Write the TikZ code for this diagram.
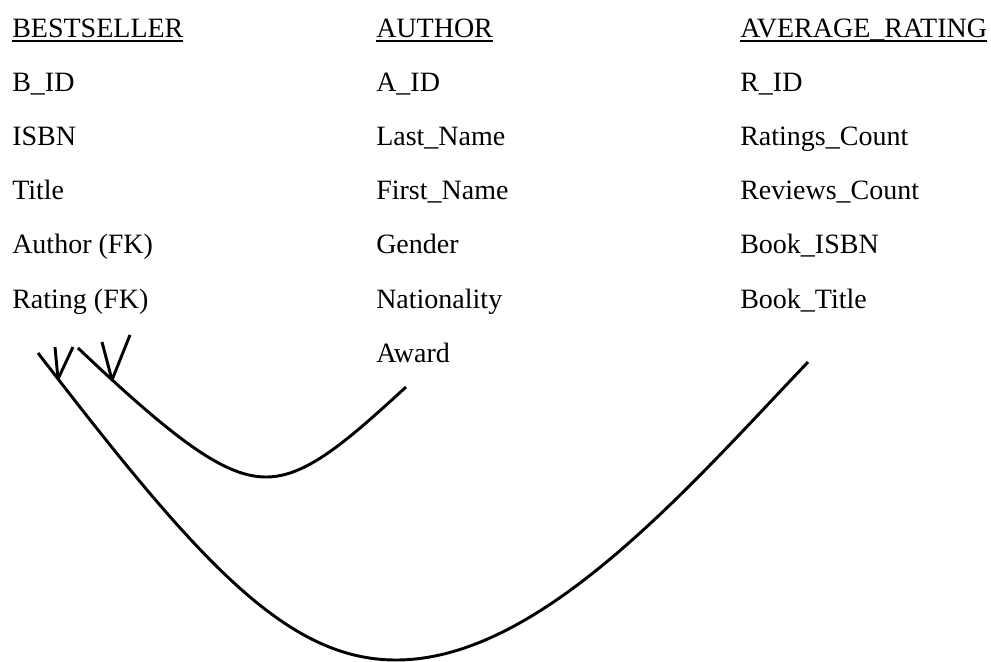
\documentclass[tikz,border=0pt]{standalone}
\usepackage{fontspec}
\setmainfont{Liberation Serif}
\newcommand{\ulhead}[1]{\setbox0\hbox{#1}\rlap{\copy0}\rule[-4pt]{\wd0}{1.4pt}}

\tikzset{field/.style={anchor=base west, inner sep=0pt, font=\fontsize{21}{26}\selectfont},
  rel/.style={line width=2.2pt}}

\begin{document}
\begin{tikzpicture}[x=0.75pt, y=-0.75pt]
\useasboundingbox (0,0) rectangle (991,661);
% tables
\node[field] (bs) at (12,37) {\ulhead{BESTSELLER}};
\node[field] (au) at (376,37) {\ulhead{AUTHOR}};
\node[field] (ar) at (740,37) {\ulhead{AVERAGE\_RATING}};
\foreach \t [count=\i] in {B\_ID, ISBN, Title, Author (FK), Rating (FK)}
    \node[field] (bs\i) at (12,{37+54.2*\i}) {\t};
\foreach \t [count=\i] in {A\_ID, Last\_Name, First\_Name, Gender, Nationality, Award}
    \node[field] (au\i) at (376,{37+54.2*\i}) {\t};
\foreach \t [count=\i] in {R\_ID, Ratings\_Count, Reviews\_Count, Book\_ISBN, Book\_Title}
    \node[field] (ar\i) at (740,{37+54.2*\i}) {\t};
% relationships
\coordinate (s0) at (78,348);
\coordinate (s1) at (112,380);
\coordinate (s2) at (406,387);
\coordinate (b0) at (38,353);
\coordinate (b1) at (58,379);
\coordinate (b2) at (808,362);
\draw[rel] (s0) .. controls (178,443) and (226,477) .. (266,477)
    .. controls (306,477) and (346,442) .. (s2);
\draw[rel] (s1) -- (102,342) (s1) -- (130,335);
\draw[rel] (b0) .. controls (198,561) and (286,660) .. (396,660)
    .. controls (540,660) and (688,488) .. (b2);
\draw[rel] (b1) -- (55,347) (b1) -- (73,347);
\end{tikzpicture}
\end{document}
